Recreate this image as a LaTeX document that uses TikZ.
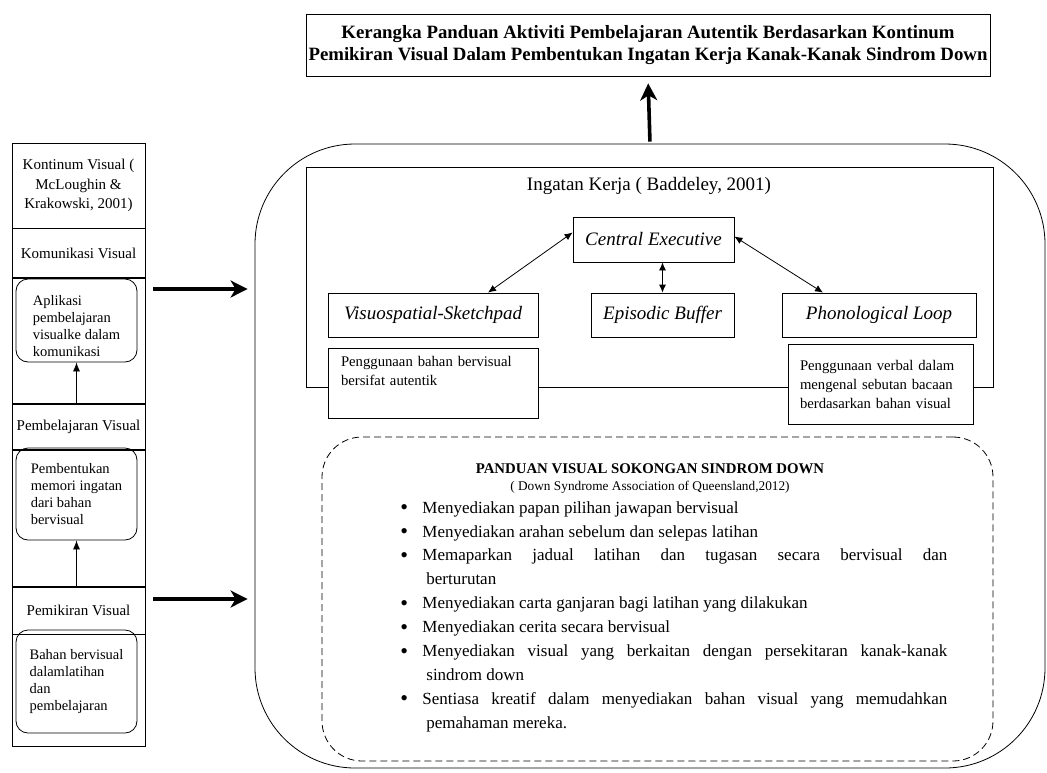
\documentclass[tikz,border=0pt]{standalone}
\usepackage{fontspec}
\setmainfont{Liberation Serif}
\usetikzlibrary{arrows.meta,positioning}

\newcommand{\titik}{\makebox[22pt][l]{\raisebox{-1.6pt}{\scalebox{1.3}{\textbullet}}}}

\begin{document}
\begin{tikzpicture}[x=1pt, y=-1pt, line width=0.8pt,
    baris/.style={draw, minimum width=133, inner sep=0pt, align=center, font=\fontsize{15}{19.5}\selectfont},
    bulat/.style={draw, rounded corners=12pt, minimum width=121, inner sep=0pt, align=left, font=\fontsize{14.5}{17}\selectfont},
    komponen/.style={draw, inner sep=0pt, minimum height=44, font=\fontsize{19}{22}\selectfont\itshape},
    catatan/.style={draw, fill=white, inner xsep=13pt, inner ysep=0pt, align=left, font=\fontsize{14.7}{19}\selectfont},
    ptr/.style={{Latex[length=8pt,width=7pt]}-{Latex[length=8pt,width=7pt]}},
    naik/.style={-{Latex[length=9pt,width=7pt]}},
    tebal/.style={-{Stealth[length=17pt,width=17pt,inset=5pt]}, line width=3.6pt}
]
\useasboundingbox (0,0) rectangle (1047,772);

% Judul kerangka
\node[draw, minimum width=684, minimum height=62, inner sep=0pt, align=center,
      font=\fontsize{18.8}{22}\selectfont\bfseries] (judul) at (648,45)
      {Kerangka Panduan Aktiviti Pembelajaran Autentik Berdasarkan Kontinum\\
       Pemikiran Visual Dalam Pembentukan Ingatan Kerja Kanak-Kanak Sindrom Down};

% Lajur kontinum visual
\node[baris, minimum height=85] (kv) at (78.5,185.5) {Kontinum Visual (\\McLoughin \&\\Krakowski, 2001)};
\node[baris, minimum height=49, below=0pt of kv] (komvis) {Komunikasi Visual};
\node[baris, minimum height=125, below=0pt of komvis] (r1) {};
\node[baris, minimum height=45, below=0pt of r1] (pembvis) {Pembelajaran Visual};
\node[baris, minimum height=136, below=0pt of pembvis] (r2) {};
\node[baris, minimum height=47, below=0pt of r2] (pemvis) {Pemikiran Visual};
\node[baris, minimum height=112, below=0pt of pemvis] (r3) {};

\node[bulat, minimum height=83] (aplikasi) at (76.5,320.5) {\rule{0pt}{22pt}Aplikasi\\pembelajaran\\visualke dalam\\komunikasi};
\node[bulat, minimum height=92] (pembentukan) at (76.5,494) {Pembentukan\\memori ingatan\\dari bahan\\bervisual};
\node[bulat, minimum height=103] (bahan) at (76.5,681.5) {Bahan bervisual\\dalamlatihan\\dan\\pembelajaran};

\draw[naik] (pembvis.north -| aplikasi.south) -- (aplikasi.south);
\draw[naik] (pemvis.north -| pembentukan.south) -- (pembentukan.south);

% Bekas besar
\node[draw, rounded corners=100pt, minimum width=790, minimum height=624, inner sep=0pt] (kerangka) at (650,456) {};

\coordinate (t1) at (153,289);
\coordinate (t2) at (153,599);
\draw[tebal, shorten >=7pt] (t1) -- (t1 -| kerangka.west);
\draw[tebal, shorten >=7pt] (t2) -- (t2 -| kerangka.west);
\draw[tebal, shorten <=2pt, shorten >=7pt] (kerangka.north) -- (judul.south);

% Ingatan kerja
\node[draw, minimum width=687, minimum height=220, inner sep=0pt] (ingatan) at (649.5,277) {};
\node[font=\fontsize{19}{22}\selectfont] (judulik) at (649,186) {Ingatan Kerja ( Baddeley, 2001)};

\node[komponen, minimum width=161, minimum height=45] (ce) at (653.5,239.5) {Central Executive};
\node[komponen, minimum width=210] (vs) at (433,315) {Visuospatial-Sketchpad};
\node[komponen, minimum width=143] (eb) at (662.5,315) {Episodic Buffer};
\node[komponen, minimum width=194] (pl) at (879,315) {Phonological Loop\hspace{32pt}};

\node[catatan, text width=184, minimum height=70] (pb) at (433,383) {Penggunaan bahan bervisual\\bersifat autentik\\ \strut};
\node[catatan, text width=161, inner xsep=12pt, minimum height=80] (pv) at (880.5,384) {Penggunaan verbal dalam\\mengenal sebutan bacaan\\berdasarkan bahan visual};

\draw[ptr] ([yshift=7pt]ce.west) -- ([xshift=55pt]vs.north);
\draw[ptr] (eb.north) -- (eb.north |- ce.south);
\draw[ptr] ([yshift=3pt]ce.east) -- ([xshift=-56pt]pl.north);

% Panduan visual
\node[draw, dash pattern=on 7pt off 4pt, rounded corners=40pt, minimum width=671, minimum height=324, inner sep=0pt] (panduan) at (657.5,599) {};
\node[font=\fontsize{14.8}{16}\selectfont\bfseries] (pjudul) at (650,469) {PANDUAN VISUAL SOKONGAN SINDROM DOWN};
\node[font=\fontsize{13.3}{15}\selectfont] (sumber) at (650,487) {( Down Syndrome Association of Queensland,2012)};
\node[anchor=north west, inner sep=0pt, align=left, font=\fontsize{17}{23.9}\selectfont] (senarai) at (400,496) {%
  \strut\titik Menyediakan papan pilihan jawapan bervisual\\
  \titik Menyediakan arahan sebelum dan selepas latihan\\
  \titik\makebox[525pt][s]{Memaparkan jadual latihan dan tugasan secara bervisual dan}\\
  \hspace{26pt}berturutan\\
  \titik Menyediakan carta ganjaran bagi latihan yang dilakukan\\
  \titik Menyediakan cerita secara bervisual\\
  \titik\makebox[525pt][s]{Menyediakan visual yang berkaitan dengan persekitaran kanak-kanak}\\
  \hspace{26pt}sindrom down\\
  \titik\makebox[525pt][s]{Sentiasa kreatif dalam menyediakan bahan visual yang memudahkan}\\
  \hspace{26pt}pemahaman mereka.};
\end{tikzpicture}
\end{document}
